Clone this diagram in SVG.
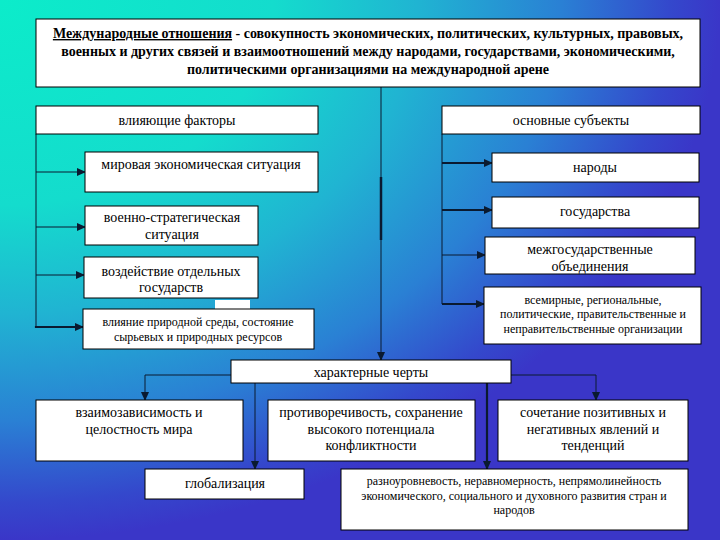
<svg xmlns="http://www.w3.org/2000/svg" width="720" height="540" viewBox="0 0 720 540">
<defs>
<radialGradient id="bg" gradientUnits="userSpaceOnUse" cx="0" cy="0" r="720" gradientTransform="scale(1,0.75)">
<stop offset="0" stop-color="#0cecca"/>
<stop offset="0.38" stop-color="#14dccd"/>
<stop offset="0.58" stop-color="#20b4d2"/>
<stop offset="0.78" stop-color="#2a80d4"/>
<stop offset="0.93" stop-color="#3448cc"/>
<stop offset="1" stop-color="#3a36c8"/>
</radialGradient>
<marker id="arr" markerUnits="userSpaceOnUse" markerWidth="9" markerHeight="8" refX="8" refY="4" orient="auto">
<path d="M0,0 L9,4 L0,8 z" fill="#0a1a30"/>
</marker>
<style>
.box{fill:#ffffff;stroke:#000000;stroke-width:1}
.t{font-family:"Liberation Serif","Times New Roman",serif;font-size:14px;fill:#000000;text-anchor:middle}
.s{font-family:"Liberation Serif","Times New Roman",serif;font-size:12px;fill:#000000;text-anchor:middle}
.ttl{font-family:"Liberation Serif","Times New Roman",serif;font-size:14px;font-weight:bold;fill:#000000;text-anchor:middle}
.c{fill:none;stroke:#0a1a30;stroke-width:1}
.ca{fill:none;stroke:#0a1a30;stroke-width:1;marker-end:url(#arr)}
.cb{fill:none;stroke:#0a1a30;stroke-width:2.2;marker-end:url(#arr)}
</style>
</defs>
<rect x="0" y="0" width="720" height="540" fill="url(#bg)"/>

<g id="connectors">
<line class="ca" x1="381" y1="87" x2="381" y2="360"/>
<line x1="381" y1="177" x2="381" y2="240" stroke="#0a1a30" stroke-width="2.5"/>
<line class="c" x1="36" y1="134" x2="36" y2="327"/>
<line class="ca" x1="36" y1="172" x2="85" y2="172"/>
<line class="ca" x1="36" y1="227" x2="85" y2="227"/>
<line class="ca" x1="36" y1="275" x2="84" y2="275"/>
<line class="cb" x1="36" y1="327" x2="83" y2="327"/>
<line x1="36" y1="326" x2="36" y2="328" stroke="#0a1a30" stroke-width="2.2"/>
<line class="c" x1="442" y1="134" x2="442" y2="304"/>
<line class="cb" x1="442" y1="163" x2="492" y2="163"/>
<line class="cb" x1="442" y1="210" x2="492" y2="210"/>
<line class="ca" x1="442" y1="255" x2="485" y2="255"/>
<line class="cb" x1="442" y1="304" x2="484" y2="304"/>
<polyline class="ca" points="231,375 145,375 145,400"/>
<polyline class="ca" points="511,375 596,375 596,400"/>
<line class="ca" x1="255" y1="383" x2="255" y2="469"/>
<line class="cb" x1="487" y1="383" x2="487" y2="469"/>
</g>

<g id="title">
<rect class="box" x="36" y="19" width="664" height="68"/>
<text class="ttl" x="368" y="38"><tspan text-decoration="underline">Международные отношения</tspan> - совокупность экономических, политических, культурных, правовых,</text>
<text class="ttl" x="368" y="56">военных и других связей и взаимоотношений между народами, государствами, экономическими,</text>
<text class="ttl" x="368" y="74">политическими организациями на международной арене</text>
</g>

<g id="factors">
<rect class="box" x="36" y="106" width="282" height="28"/>
<text class="t" x="177" y="125">влияющие факторы</text>
</g>
<g id="subjects">
<rect class="box" x="442" y="106" width="258" height="28"/>
<text class="t" x="571" y="125">основные субъекты</text>
</g>

<g id="econ">
<rect class="box" x="85" y="152" width="233" height="40"/>
<text class="t" x="201" y="169">мировая экономическая ситуация</text>
</g>
<g id="military">
<rect class="box" x="85" y="206" width="173" height="39"/>
<text class="t" x="172" y="222">военно-стратегическая</text>
<text class="t" x="172" y="239">ситуация</text>
</g>
<g id="states-impact">
<rect class="box" x="84" y="257" width="174" height="41"/>
<text class="t" x="171" y="276">воздействие отдельных</text>
<text class="t" x="171" y="292">государств</text>
</g>
<rect x="215" y="300" width="35" height="12" fill="#ffffff"/>
<g id="nature">
<rect class="box" x="83" y="309" width="231" height="40"/>
<text class="s" x="198" y="326">влияние природной среды, состояние</text>
<text class="s" x="198" y="341">сырьевых и природных ресурсов</text>
</g>

<g id="peoples">
<rect class="box" x="492" y="153" width="207" height="29"/>
<text class="t" x="595" y="172">народы</text>
</g>
<g id="states">
<rect class="box" x="492" y="197" width="207" height="31"/>
<text class="t" x="595" y="216">государства</text>
</g>
<g id="interstate">
<rect class="box" x="485" y="237" width="210" height="37"/>
<text class="t" x="590" y="254">межгосударственные</text>
<text class="t" x="590" y="271">объединения</text>
</g>
<g id="orgs">
<rect class="box" x="484" y="287" width="217" height="57"/>
<text class="s" x="593" y="304">всемирные, региональные,</text>
<text class="s" x="593" y="318">политические, правительственные и</text>
<text class="s" x="593" y="333">неправительственные организации</text>
</g>

<g id="features">
<rect class="box" x="231" y="360" width="280" height="23"/>
<text class="t" x="371" y="377">характерные черты</text>
</g>
<g id="interdep">
<rect class="box" x="36" y="400" width="207" height="61"/>
<text class="t" x="139" y="417">взаимозависимость и</text>
<text class="t" x="139" y="434">целостность мира</text>
</g>
<g id="contradict">
<rect class="box" x="268" y="400" width="207" height="61"/>
<text class="t" x="371" y="417">противоречивость, сохранение</text>
<text class="t" x="371" y="434">высокого потенциала</text>
<text class="t" x="371" y="450">конфликтности</text>
</g>
<g id="combination">
<rect class="box" x="498" y="400" width="190" height="61"/>
<text class="t" x="593" y="417">сочетание позитивных и</text>
<text class="t" x="593" y="434">негативных явлений и</text>
<text class="t" x="593" y="450">тенденций</text>
</g>
<g id="globalization">
<rect class="box" x="145" y="469" width="159" height="30"/>
<text class="t" x="225" y="488">глобализация</text>
</g>
<g id="uneven">
<rect class="box" x="341" y="469" width="347" height="61"/>
<text class="s" x="514" y="485">разноуровневость, неравномерность, непрямолинейность</text>
<text class="s" x="514" y="500">экономического, социального и духовного развития стран и</text>
<text class="s" x="514" y="514">народов</text>
</g>
</svg>
